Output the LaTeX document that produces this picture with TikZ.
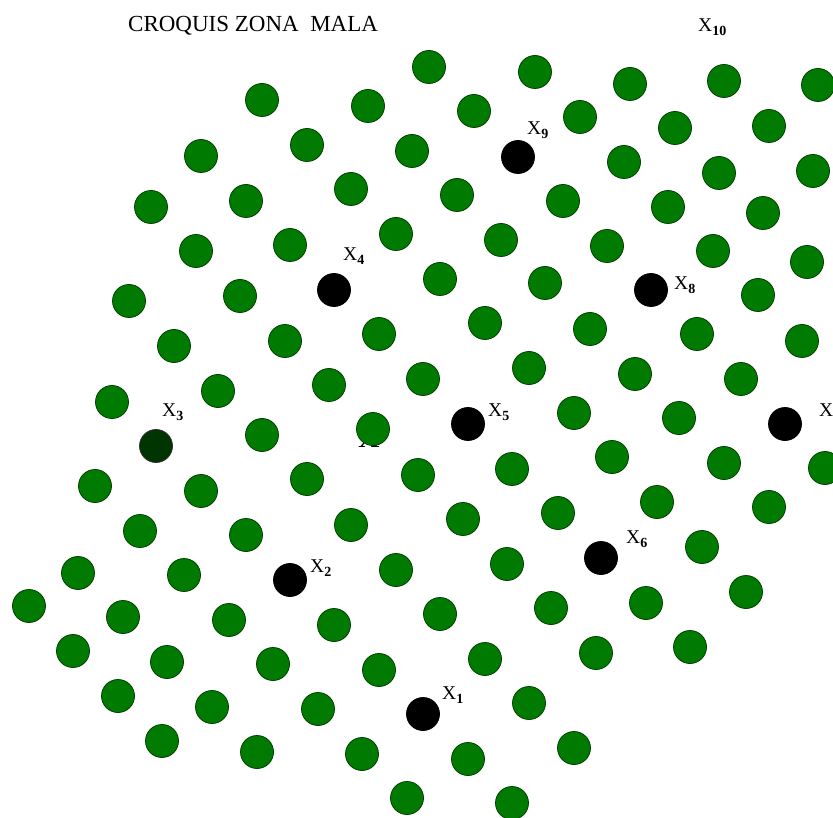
\documentclass[tikz,border=0pt]{standalone}
\usepackage{fontspec}
\setmainfont{Liberation Serif}
\definecolor{dotgreen}{RGB}{0,122,0}
\definecolor{dotedge}{RGB}{0,64,0}
\definecolor{darkdot}{RGB}{0,52,0}
\newcommand{\xlab}[1]{X\lower4pt\hbox{\fontsize{14}{14}\selectfont\bfseries #1}}
\tikzset{
  dot/.style={circle, minimum size=33pt, inner sep=0pt, fill=dotgreen, draw=dotedge, line width=0.8pt},
  blackdot/.style={dot, fill=black, draw=black},
  darkgreendot/.style={dot, fill=darkdot, draw=black!80},
  lab/.style={anchor=base west, inner sep=0pt, font=\fontsize{19.5}{20}\selectfont, text=black}
}
\begin{document}
\begin{tikzpicture}[x=1pt,y=-1pt]
\useasboundingbox[fill=white] (0,0) rectangle (833,818);
% hidden label partly covered by a dot
\node[anchor=base, inner sep=0pt, font=\fontsize{30}{30}\selectfont] (hid) at (369,447) {X};
\node[lab, font=\fontsize{23}{23}\selectfont] (title) at (128,32) {CROQUIS ZONA\ \ MALA};
\foreach \px/\py [count=\i] in {
429/67, 535/72, 630/84, 724/81, 818/85,
262/100, 368/106, 474/111, 580/117, 675/128, 769/126,
307/145, 412/151, 201/156, 624/162, 719/173, 813/171,
351/189, 457/195, 246/201, 563/201, 151/207, 668/207, 763/213,
396/234, 501/240, 607/246, 290/245, 196/251, 713/251, 807/262,
440/279, 545/283, 240/296, 758/295, 129/301,
485/323, 590/329, 379/334, 697/334, 285/341, 802/341, 174/346,
529/368, 635/374, 423/379, 741/379, 329/385, 218/391, 112/402,
574/413, 679/418, 373/429, 262/435,
612/457, 512/469, 825/468, 724/463, 418/475, 307/479, 201/491, 95/486,
657/502, 769/507, 558/513, 463/519, 351/525, 246/535, 140/531,
702/547, 507/564, 396/570, 184/575, 78/573,
746/592, 646/603, 29/606, 551/608, 440/614, 123/617, 229/620, 334/625,
690/647, 73/651, 596/653, 485/659, 167/662, 273/664, 379/670,
118/696, 529/703, 212/707, 318/709,
162/741, 574/748, 257/752, 362/754, 468/759,
407/798, 512/803}
  \node[dot] (g\i) at (\px,\py) {};
% marked points
\node[blackdot] (p1) at (423,714) {};
\node[blackdot] (p2) at (290,580) {};
\node[darkgreendot] (p3) at (156,446) {};
\node[blackdot] (p4) at (334,290) {};
\node[blackdot] (p5) at (468,424) {};
\node[blackdot] (p6) at (601,558) {};
\node[blackdot] (p7) at (785,424) {};
\node[blackdot] (p8) at (651,290) {};
\node[blackdot] (p9) at (518,157) {};
% labels
\node[lab] (l1) at (442,699) {\xlab{1}};
\node[lab] (l2) at (310,572) {\xlab{2}};
\node[lab] (l3) at (162,416) {\xlab{3}};
\node[lab] (l4) at (343,261) {\xlab{4}};
\node[lab] (l5) at (488,416) {\xlab{5}};
\node[lab] (l6) at (626,543) {\xlab{6}};
\node[lab] (l7) at (819,416) {\xlab{7}};
\node[lab] (l8) at (674,290) {\xlab{8}};
\node[lab] (l9) at (527,135) {\xlab{9}};
\node[lab] (l10) at (698,32) {\xlab{10}};
\end{tikzpicture}
\end{document}
